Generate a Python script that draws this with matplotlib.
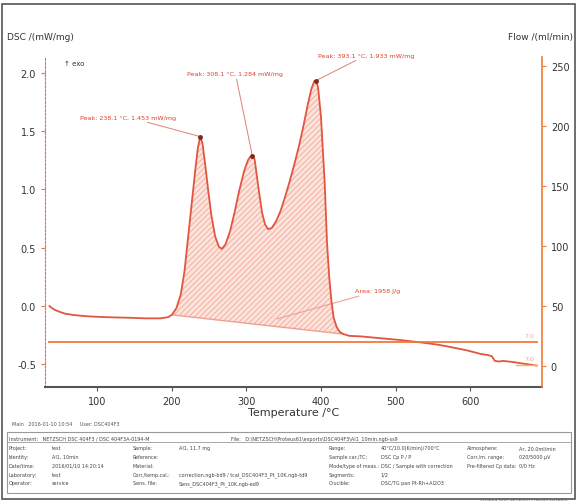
import matplotlib
matplotlib.use('Agg')
import matplotlib.pyplot as plt
from matplotlib.patches import Rectangle

# DSC curve (temperature in degC, DSC in mW/mg)
temp = [36, 40, 44, 50, 57, 67, 77, 89, 104, 123, 144, 164, 185, 195, 200,
        206, 212, 217, 222, 227, 232, 235, 238, 241, 245, 249, 253, 258, 263, 267,
        272, 278, 284, 290, 297, 302, 305, 308, 311, 316, 321, 325, 329, 334, 340,
        346, 352, 358, 364, 370, 376, 382, 387, 391, 393, 396, 400, 405, 408, 411,
        414, 417, 421, 425, 430, 438, 454, 479, 505, 532, 556, 573, 596, 614, 624,
        629, 633, 639, 644, 658, 673, 689]
dsc = [0.0, -0.02, -0.035, -0.05, -0.065, -0.075, -0.082, -0.088, -0.093, -0.097, -0.10, -0.105, -0.105, -0.095, -0.075,
       -0.02, 0.10, 0.30, 0.60, 0.90, 1.20, 1.36, 1.45, 1.40, 1.20, 0.98, 0.78, 0.60, 0.51, 0.49,
       0.53, 0.64, 0.80, 0.98, 1.16, 1.25, 1.28, 1.284, 1.26, 1.02, 0.80, 0.70, 0.66, 0.67, 0.73,
       0.82, 0.94, 1.07, 1.21, 1.36, 1.53, 1.72, 1.86, 1.93, 1.933, 1.88, 1.62, 1.05, 0.55, 0.25,
       0.04, -0.10, -0.18, -0.22, -0.24, -0.255, -0.26, -0.275, -0.29, -0.31, -0.33, -0.35, -0.38, -0.41, -0.42,
       -0.43, -0.47, -0.475, -0.47, -0.48, -0.495, -0.51]

# integration limits / baseline end points
base_t = [200, 430]
base_v = [-0.075, -0.24]

# purge flow (ml/min) and protective flow
flow_t = [36, 689]
flow_v = [20, 20]
flow2_t = [662, 689]
flow2_v = [1, 1]

peaks = [(238.1, 1.453), (308.1, 1.284), (393.1, 1.933)]
peak_labels = ['Peak: 238.1 °C, 1.453 mW/mg',
               'Peak: 308.1 °C, 1.284 mW/mg',
               'Peak: 393.1 °C, 1.933 mW/mg']
peak_text_pos = [(77, 1.6), (221, 1.97), (396, 2.13)]
area_label = 'Area: 1958 J/g'

xticks = [100, 200, 300, 400, 500, 600]
yticks = [-0.5, 0.0, 0.5, 1.0, 1.5, 2.0]
yticks_r = [0, 50, 100, 150, 200, 250]

red = '#e2553e'
orange = '#f2783a'
txt = '#d9442c'

fig = plt.figure(figsize=(5.77, 5.02), dpi=100)
ax = fig.add_axes([0.078, 0.227, 0.861, 0.657])
ax2 = ax.twinx()

# hatched peak area
i0 = temp.index(base_t[0])
i1 = temp.index(base_t[1])
poly_t = temp[i0:i1 + 1] + [base_t[1], base_t[0]]
poly_v = dsc[i0:i1 + 1] + [base_v[1], base_v[0]]
plt.rcParams['hatch.linewidth'] = 0.6
ax.fill(poly_t, poly_v, facecolor='#fce4dc', edgecolor='#f0a898', hatch='//////', lw=0)
ax.plot(base_t, base_v, color='#f0a090', lw=1)

ax.plot(temp, dsc, color=red, lw=1.3, zorder=5)
for (pt, pv) in peaks:
    ax.plot(pt, pv, marker='o', ms=2.5, color='#7a2a20', zorder=6)

for (pt, pv), lab, (tx, ty) in zip(peaks, peak_labels, peak_text_pos):
    ax.annotate(lab, xy=(pt, pv), xytext=(tx, ty), fontsize=4.6, color=txt,
                ha='left', va='bottom',
                arrowprops=dict(arrowstyle='-', color='#e08070', lw=0.7,
                                shrinkA=0, shrinkB=0))
ax.annotate(area_label, xy=(341, -0.11), xytext=(446, 0.11), fontsize=4.6,
            color=txt, ha='left', va='bottom',
            arrowprops=dict(arrowstyle='-', color='#f0a090', lw=0.8,
                            shrinkA=0, shrinkB=0))
ax.text(56, 2.07, '↑ exo', fontsize=5, color='#333333')

ax2.plot(flow_t, flow_v, color=orange, lw=1.3)
ax2.plot(flow2_t, flow2_v, color='#e8c050', lw=1.0)
ax2.text(686, 23, '7.0', fontsize=4.5, color='#f0a090', ha='right', va='bottom')
ax2.text(686, 4, '7.0', fontsize=4.5, color='#f0a090', ha='right', va='bottom')

ax.set_xlim(30, 696)
ax.set_ylim(-0.694, 2.134)
ax2.set_ylim(-17.5, 257.5)
ax.set_xticks(xticks)
ax.set_yticks(yticks)
ax2.set_yticks(yticks_r)
ax.set_yticklabels([f'{v:.1f}' for v in yticks])

for a in (ax, ax2):
    a.spines['top'].set_visible(False)
ax.spines['right'].set_visible(False)
ax.spines['left'].set_color('#e07060')
ax.spines['left'].set_linestyle((0, (2, 1.5)))
ax2.spines['left'].set_visible(False)
ax2.spines['bottom'].set_visible(False)
ax2.spines['right'].set_color(orange)
ax2.spines['right'].set_linewidth(1.2)
ax.spines['bottom'].set_color('#555555')
ax.spines['bottom'].set_linewidth(1.5)

ax.tick_params(axis='x', labelsize=7, color='#555555', length=3, labelcolor='#333333')
ax.tick_params(axis='y', labelsize=7, color='#e07060', length=3, labelcolor='#333333')
ax2.tick_params(axis='y', labelsize=7, color=orange, length=3, labelcolor='#333333')
ax.set_xlabel('Temperature /°C', fontsize=8, color='#333333', labelpad=1)

fig.text(0.012, 0.92, 'DSC /(mW/mg)', fontsize=6.5, color='#333333')
fig.text(0.88, 0.92, 'Flow /(ml/min)', fontsize=6.5, color='#333333')
fig.text(0.02, 0.152, 'Main   2016-01-10 10:54     User: DSC404F3', fontsize=3.5, color='#555555')

# info table below the chart
fig.patches.append(Rectangle((0.012, 0.015), 0.978, 0.122, transform=fig.transFigure,
                             fill=False, edgecolor='#999999', lw=0.8))
fig.patches.append(Rectangle((0.012, 0.118), 0.978, 0.019, transform=fig.transFigure,
                             fill=False, edgecolor='#999999', lw=0.6))
fig.text(0.015, 0.122, 'Instrument:   NETZSCH DSC 404F3 / DSC 404F3A-0194-M', fontsize=3.5, color='#444444')
fig.text(0.40, 0.122, 'File:   D:\\NETZSCH\\Proteus61\\exports\\DSC404F3\\AI1_10min.ngb-ss9', fontsize=3.5, color='#444444')
rows = [
    ('Project:', 'test', 'Sample:', 'Al1, 11.7 mg', 'Range:', '40°C/10.0(K/min)/700°C', 'Atmosphere:', 'Ar, 20.0ml/min'),
    ('Identity:', 'Al1, 10min', 'Reference:', '', 'Sample car./TC:', 'DSC Cp P / P', 'Corr./m. range:', '020/5000 µV'),
    ('Date/time:', '2016/01/10 14:20:14', 'Material:', '', 'Mode/type of meas.:', 'DSC / Sample with correction', 'Pre-filtered Cp data:', '0/0 Hz'),
    ('Laboratory:', 'test', 'Corr./temp.cal.:', 'correction.ngb-bd9 / tcal_DSC404F3_Pt_10K.ngb-td9', 'Segments:', '1/2', '', ''),
    ('Operator:', 'service', 'Sens. file:', 'Sens_DSC404F3_Pt_10K.ngb-ed9', 'Crucible:', 'DSC/TG pan Pt-Rh+Al2O3', '', ''),
]
xs = [0.015, 0.09, 0.23, 0.31, 0.57, 0.66, 0.81, 0.90]
for r, row in enumerate(rows):
    y = 0.103 - r * 0.0175
    for x, s in zip(xs, row):
        fig.text(x, y, s, fontsize=3.5, color='#444444')
fig.text(0.985, 0.002, 'Created with NETZSCH Proteus software', fontsize=3.2, color='#666666', ha='right')

# outer frame
fig.patches.append(Rectangle((0.004, 0.004), 0.992, 0.986, transform=fig.transFigure,
                             fill=False, edgecolor='#555555', lw=1.2))

fig.savefig('out.png', dpi=100)
